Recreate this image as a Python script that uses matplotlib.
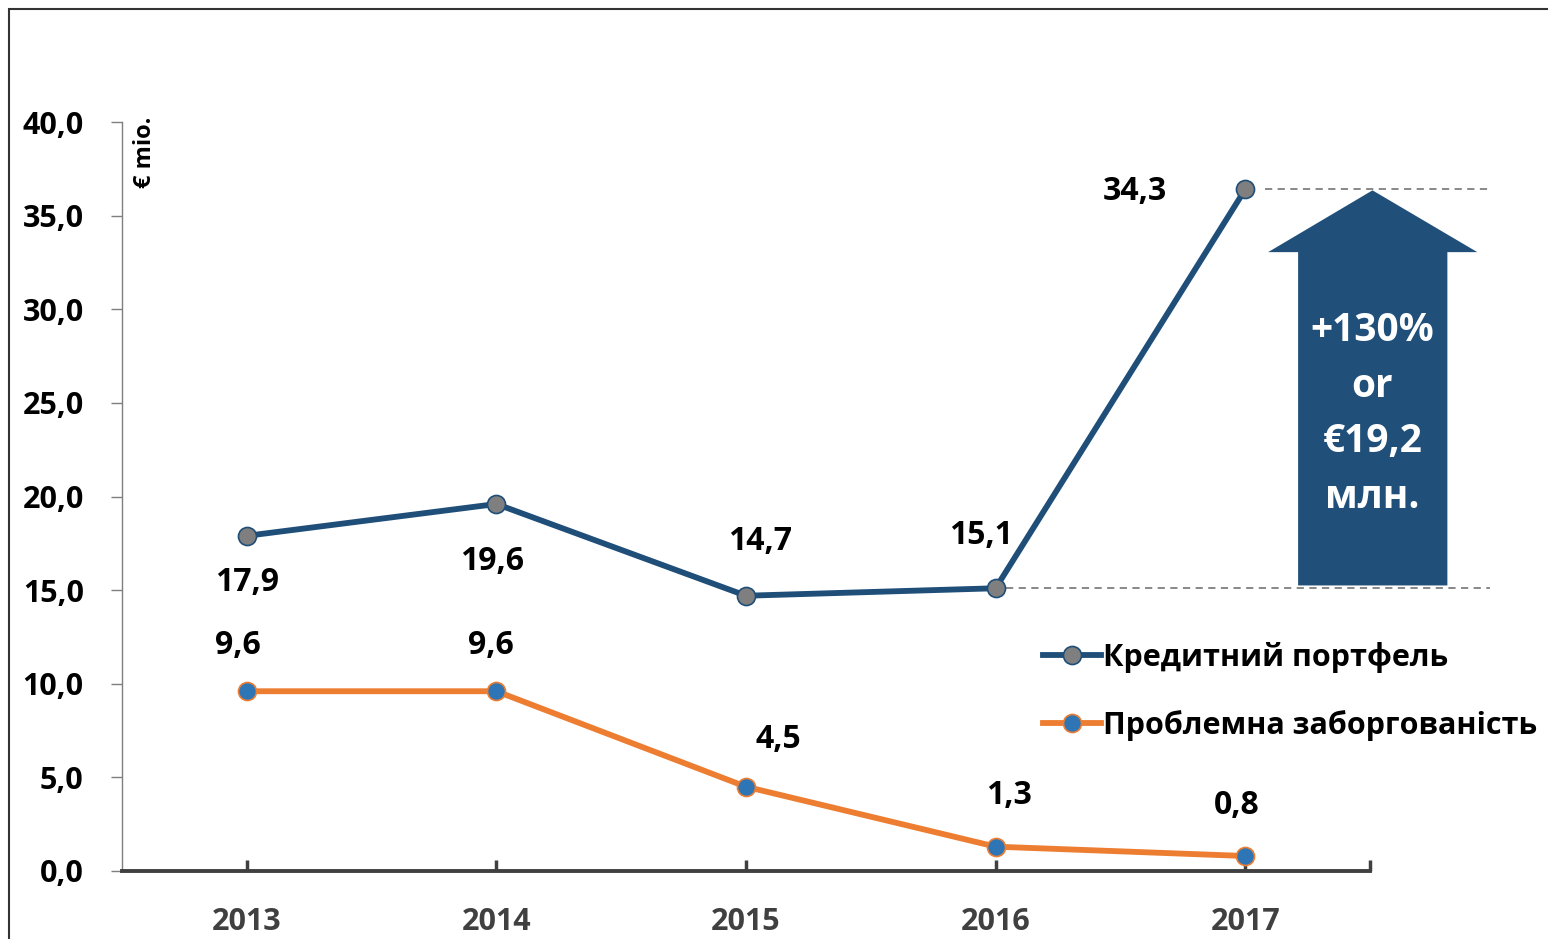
import matplotlib.pyplot as plt
from matplotlib.patches import Polygon, Rectangle

# data
years = ["2013", "2014", "2015", "2016", "2017"]
portfolio = [17.9, 19.6, 14.7, 15.1, 36.4]
portfolio_labels = ["17,9", "19,6", "14,7", "15,1", "34,3"]
problem = [9.6, 9.6, 4.5, 1.3, 0.8]
problem_labels = ["9,6", "9,6", "4,5", "1,3", "0,8"]
y_ticks = [0, 5, 10, 15, 20, 25, 30, 35, 40]
series_names = ["Кредитний портфель", "Проблемна заборгованість"]
arrow_text = "+130%\nor\n€19,2\nмлн."

# style
BLUE = "#1F4E79"
ORANGE = "#ED7D31"
MARK_BLUE = "#2E75B6"
GREY = "#7F7F7F"
DARK = "#404040"
plt.rcParams["font.family"] = ["Open Sans", "DejaVu Sans"]
plt.rcParams["font.weight"] = "bold"

W, H = 1548, 939
fig = plt.figure(figsize=(W / 100, H / 100), dpi=100)
ax = fig.add_axes([122 / W, (H - 871) / H, (1370 - 122) / W, (871 - 122) / H])

x = list(range(len(years)))
l1, = ax.plot(x, portfolio, color=BLUE, lw=4.2, marker="o", ms=13,
              mfc=GREY, mec=BLUE, mew=1.2, zorder=5, clip_on=False)
l2, = ax.plot(x, problem, color=ORANGE, lw=4.2, marker="o", ms=13,
              mfc=MARK_BLUE, mec=ORANGE, mew=1.2, zorder=5, clip_on=False)

# data labels (offsets in pixels)
off1 = [(0, -47), (-4, -58), (14, 54), (-15, 53), (-110, -2)]
off2 = [(-9, 46), (-6, 46), (32, 47), (13, 51), (-8, 51)]
for xi, v, lab, o in zip(x, portfolio, portfolio_labels, off1):
    ax.annotate(lab, (xi, v), xytext=o, textcoords="offset pixels",
                ha="center", va="center", fontsize=23, fontweight="bold")
for xi, v, lab, o in zip(x, problem, problem_labels, off2):
    ax.annotate(lab, (xi, v), xytext=o, textcoords="offset pixels",
                ha="center", va="center", fontsize=23, fontweight="bold")

# dashed guide lines
ax.plot([4.08, 4.98], [portfolio[4], portfolio[4]], ls=(0, (4, 3)), color=GREY,
        lw=1.3, clip_on=False, zorder=2)
ax.plot([3.04, 4.98], [portfolio[3], portfolio[3]], ls=(0, (4, 3)), color=GREY,
        lw=1.3, clip_on=False, zorder=2)

# big arrow
base, head_y, tip = 15.25, 33.05, 36.35
arrow = Polygon([(4.212, base), (4.212, head_y), (4.092, head_y), (4.51, tip),
                 (4.93, head_y), (4.81, head_y), (4.81, base)],
                closed=True, facecolor="#204F79", edgecolor="none", clip_on=False, zorder=3)
ax.add_patch(arrow)
ax.text(4.51, 24.4, arrow_text, ha="center", va="center", color="white",
        fontsize=28, fontweight="bold", linespacing=1.55, zorder=4)

# axes
ax.set_xlim(-0.5, 4.5)
ax.set_ylim(0, 40)
ax.set_yticks(y_ticks)
ax.set_yticklabels([f"{t:.1f}".replace(".", ",") for t in y_ticks], fontsize=22, fontweight="bold")
ax.set_xticks(x)
ax.set_xticklabels(years, fontsize=22, fontweight="bold", color=DARK)
ax.set_xticks([4.5], minor=True)
for s in ["top", "right"]:
    ax.spines[s].set_visible(False)
ax.spines["left"].set_color(GREY)
ax.spines["left"].set_linewidth(1)
ax.spines["bottom"].set_color(DARK)
ax.spines["bottom"].set_linewidth(2.8)
ax.tick_params(axis="y", direction="out", length=8, width=1, color=GREY, pad=19.5)
ax.tick_params(axis="x", which="both", direction="in", length=8, width=2.5, color=DARK, pad=26)

fig.text(145 / W, 1 - 152 / H, "€ mio.", rotation=90, ha="center", va="center",
         fontsize=17, fontweight="bold")

# legend
leg = ax.legend([l1, l2], series_names, loc="upper left",
                bbox_to_anchor=(1043 / W, 1 - 642 / H), bbox_transform=fig.transFigure,
                frameon=False, fontsize=22, handlelength=1.9, handletextpad=0.05,
                labelspacing=1.2, borderaxespad=0, borderpad=0)
for t in leg.get_texts():
    t.set_fontweight("bold")

# outer frame
fig.patches.append(Rectangle((9 / W, -0.05), 1.1, 1 - 9 / H + 0.05, transform=fig.transFigure,
                             fill=False, edgecolor="#333333", lw=1.5))

fig.savefig("out.png", dpi=100)
